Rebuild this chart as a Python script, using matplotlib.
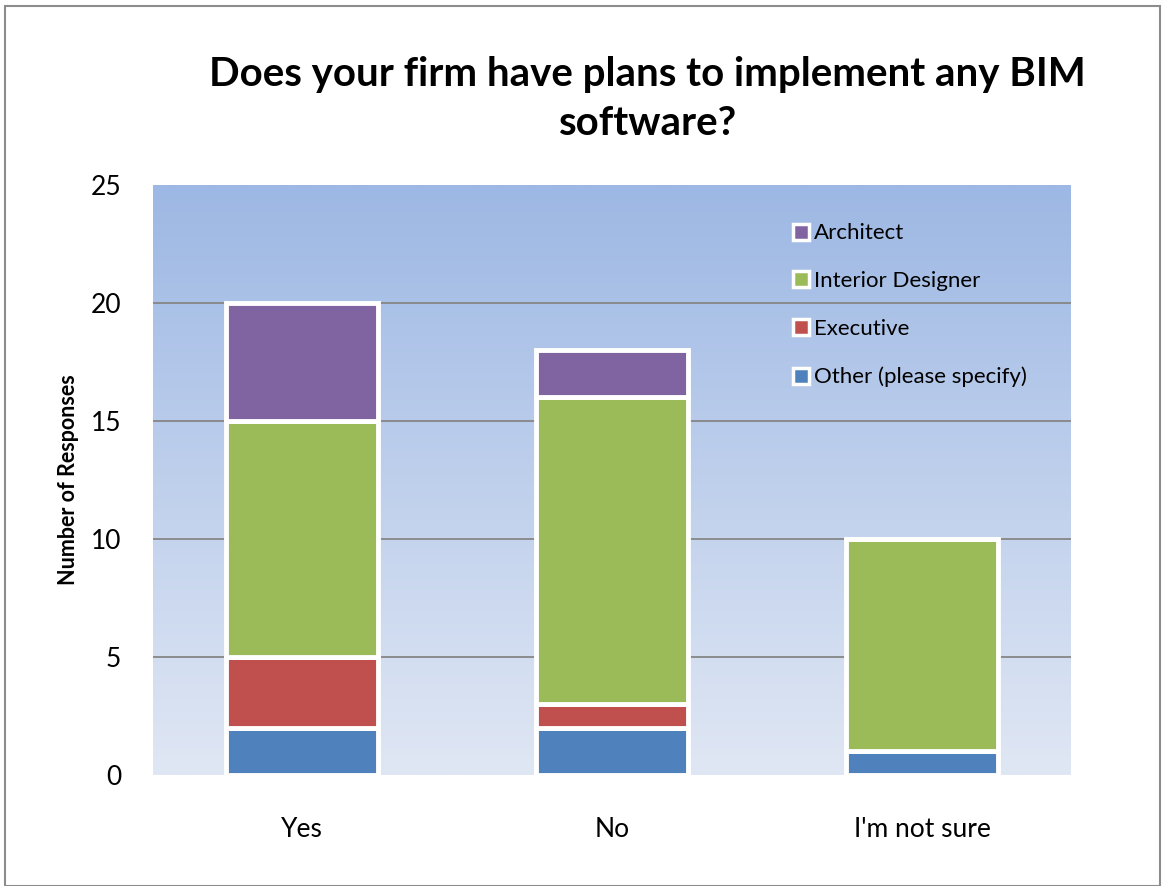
import numpy as np
import matplotlib
matplotlib.use("Agg")
import matplotlib.pyplot as plt
from matplotlib.patches import Rectangle
from matplotlib.lines import Line2D

plt.rcParams['font.family'] = ['Lato', 'DejaVu Sans']

# data
categories = ["Yes", "No", "I'm not sure"]
other = [2, 2, 1]
executive = [3, 1, 0]
interior = [10, 13, 9]
architect = [5, 2, 0]

series = [("Other (please specify)", other, "#4f81bd"),
          ("Executive", executive, "#c0504d"),
          ("Interior Designer", interior, "#9bbb59"),
          ("Architect", architect, "#8064a2")]

fig = plt.figure(figsize=(11.65, 8.86), dpi=100)
ax = fig.add_axes([153 / 1165, 1 - 775 / 886, 918 / 1165, 590 / 886])

# gradient background
grad = np.linspace(0, 1, 256).reshape(-1, 1)
cmap = matplotlib.colors.LinearSegmentedColormap.from_list("bg", ["#e0e7f4", "#9db8e4"])
ax.imshow(grad, aspect="auto", cmap=cmap, origin="lower",
          extent=[0, 1, 0, 1], transform=ax.transAxes, zorder=0)

x = np.arange(len(categories)) + 0.5
width = 0.49
bottom = np.zeros(len(categories))
for name, vals, col in series:
    vals = np.array(vals, dtype=float)
    ax.bar(x, vals, width, bottom=bottom, color=col, edgecolor="white",
           linewidth=3.5, zorder=3, label=name)
    bottom += vals

ax.set_xlim(0.02, 2.98)
ax.set_ylim(0, 25)
ax.set_yticks([0, 5, 10, 15, 20, 25])
for y in [5, 10, 15, 20]:
    ax.axhline(y, color="#868686", linewidth=1.3, zorder=1)
ax.set_xticks(x)
ax.set_xticklabels(categories, fontsize=19)
ax.tick_params(axis="y", labelsize=19, length=0, pad=23)
ax.tick_params(axis="x", length=0, pad=30)
for s in ax.spines.values():
    s.set_visible(False)

ax.set_ylabel("Number of Responses", fontsize=15.5, fontweight="bold", labelpad=8)

fig.suptitle("Does your firm have plans to implement any BIM\nsoftware?",
             fontsize=29, fontweight="bold", x=0.556, y=0.937, linespacing=1.4)

handles = [Line2D([], [], marker="s", linestyle="none", markersize=12,
                  markerfacecolor=col, markeredgecolor="white", markeredgewidth=2.5)
           for name, vals, col in series][::-1]
labels = [name for name, vals, col in series][::-1]
ax.legend(handles, labels, loc="upper left", bbox_to_anchor=(0.685, 0.95),
          frameon=False, fontsize=16, labelspacing=1.25, handletextpad=0.15,
          handlelength=0.9, borderaxespad=0)

fig.add_artist(Rectangle((5 / 1165, 0), 1155 / 1165, 1 - 6 / 886, transform=fig.transFigure,
                         fill=False, edgecolor="#8c8c8c", linewidth=1.5))

fig.savefig("out.png", dpi=100)
